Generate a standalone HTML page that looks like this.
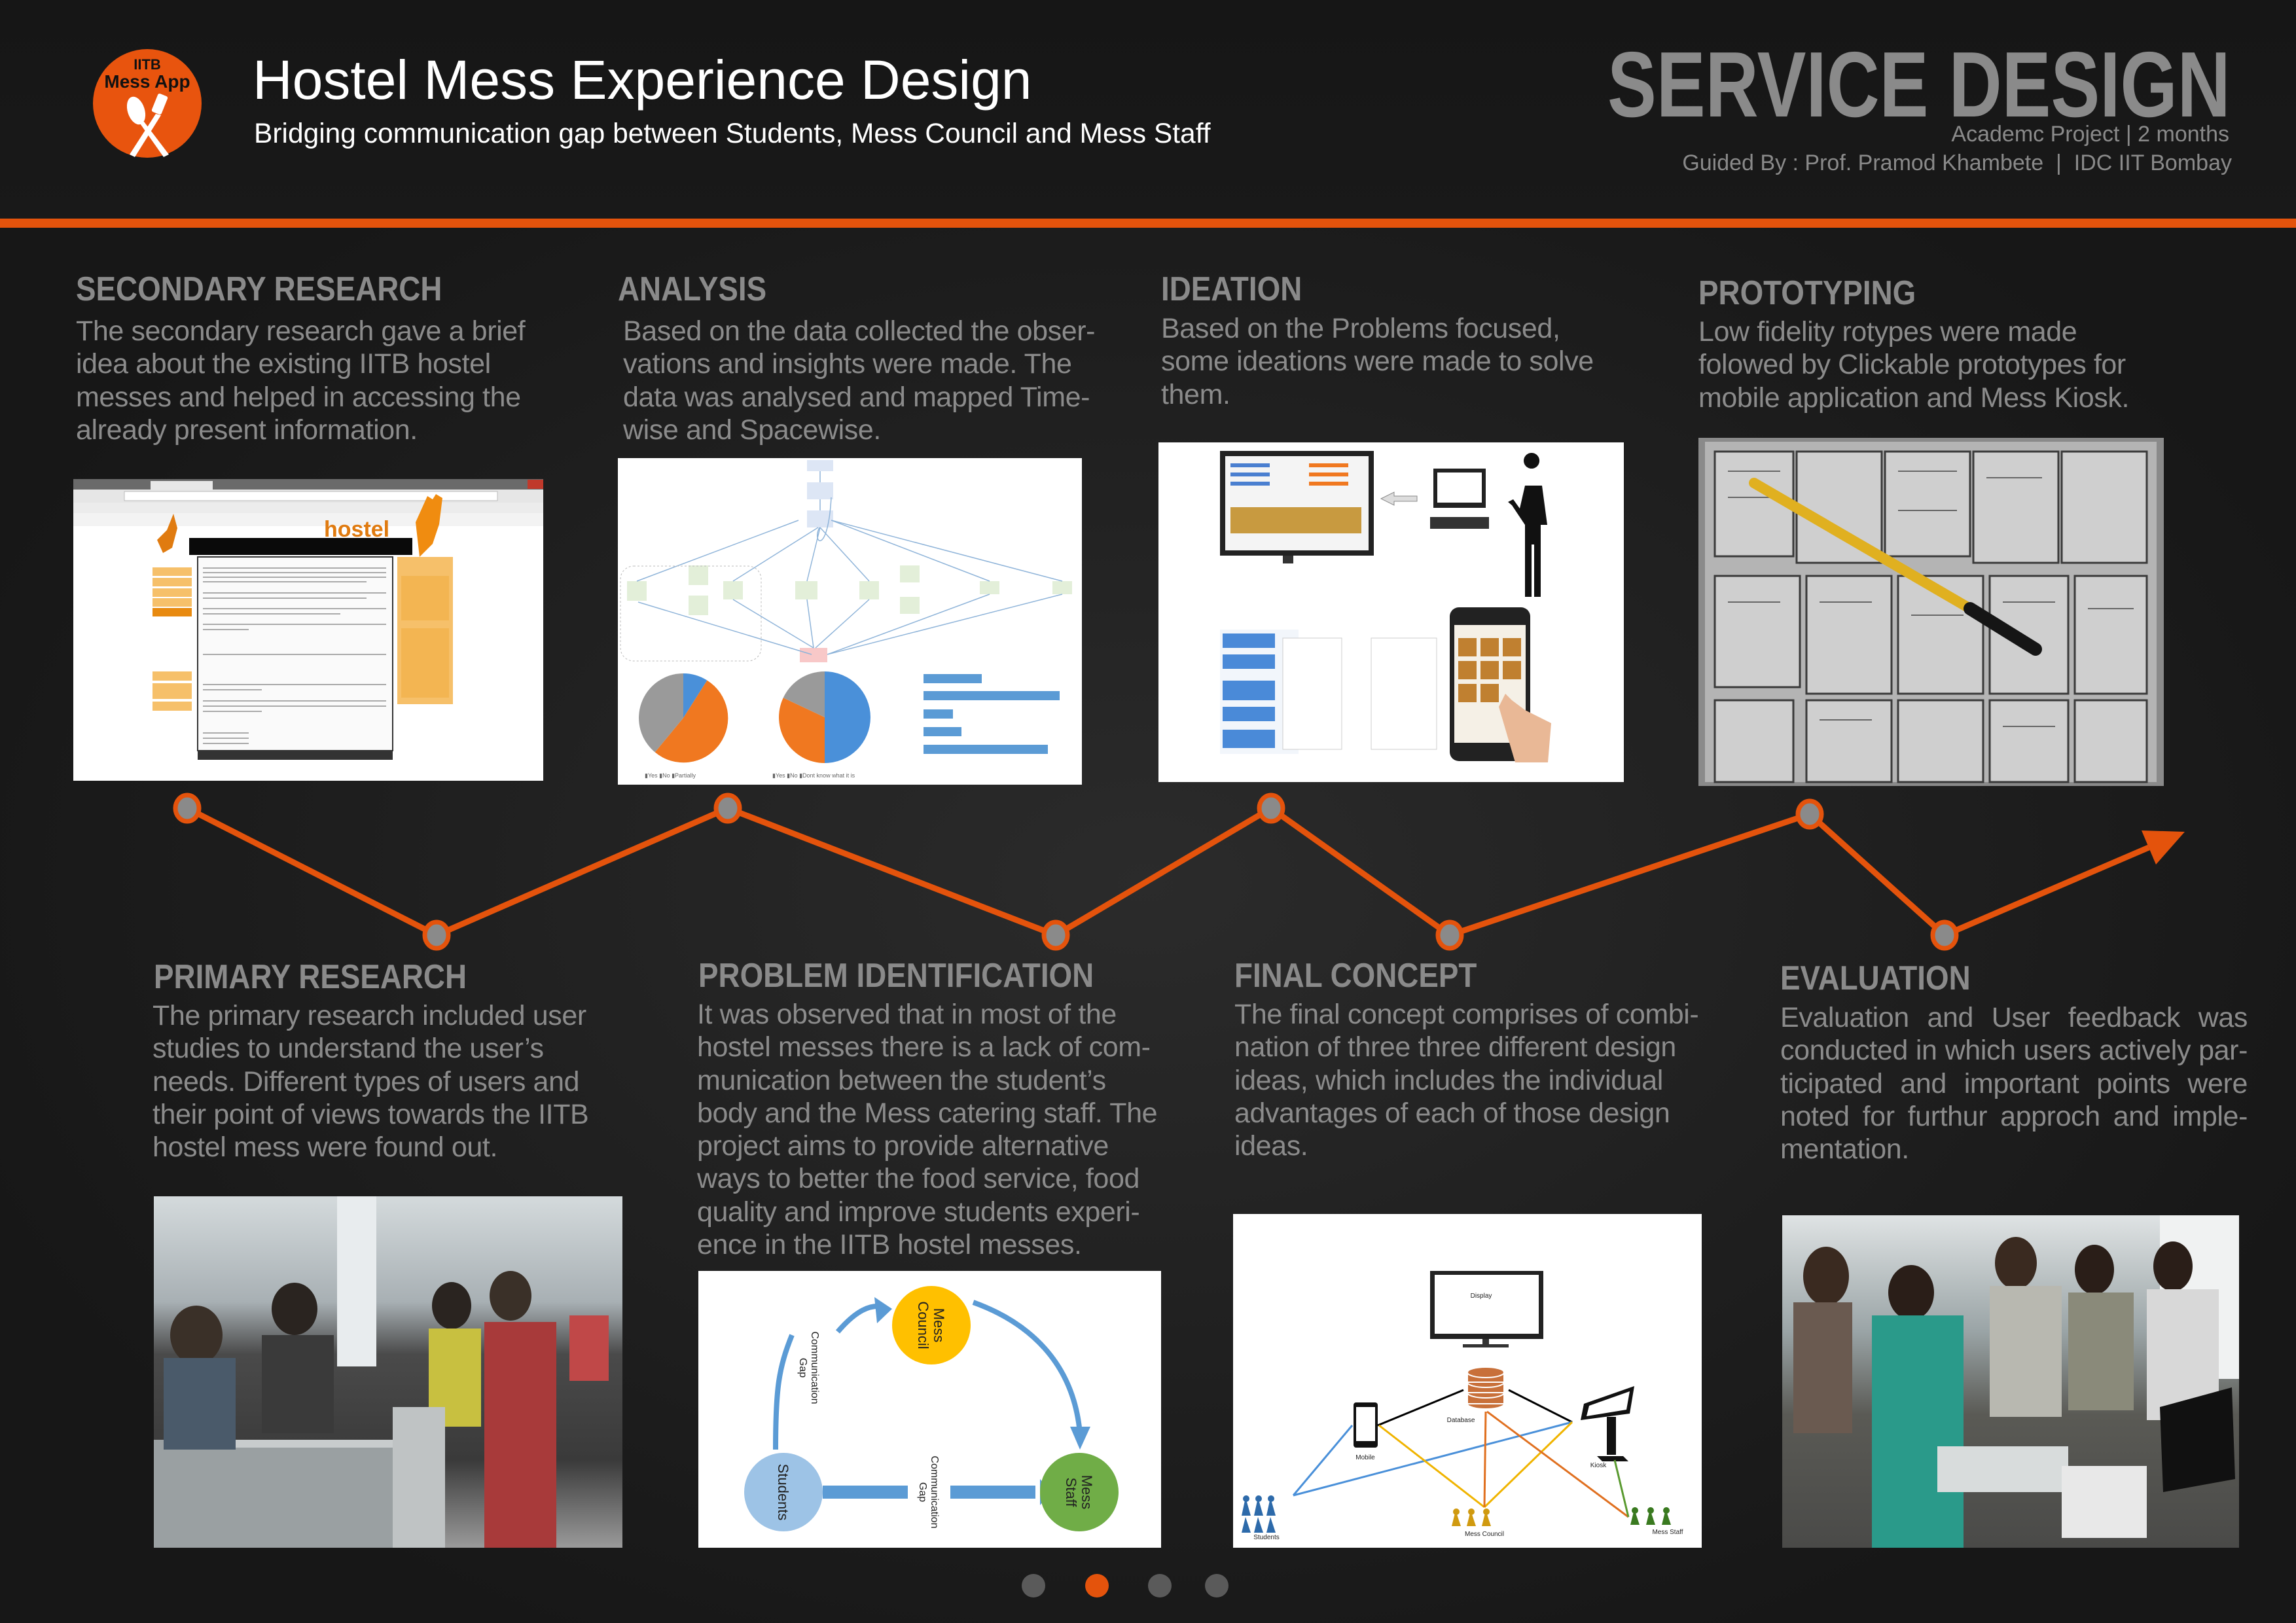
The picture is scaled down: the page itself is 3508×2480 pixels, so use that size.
<!DOCTYPE html>
<html><head><meta charset="utf-8">
<style>
html,body{margin:0;padding:0;}
body{width:3508px;height:2480px;position:relative;overflow:hidden;font-family:"Liberation Sans",sans-serif;
background:radial-gradient(ellipse 1900px 1300px at 1750px 1350px,#2b2b2b 0%,#222 45%,#171717 100%);}
.abs{position:absolute;}
.h{position:absolute;font-weight:bold;font-size:52px;color:#8a8a8a;white-space:nowrap;transform:scaleX(0.88);transform-origin:left top;line-height:60px;}
.t{position:absolute;font-size:43px;line-height:50.3px;color:#8b8b8b;white-space:nowrap;letter-spacing:-0.4px;}
.t div{white-space:nowrap;}
.j div{text-align:justify;text-align-last:justify;}
.j div:last-child{text-align-last:left;}
</style></head><body>
<div class="abs" style="left:0;top:0;width:3508px;height:335px;background:linear-gradient(#161616,#191919);"></div>
<div class="abs" style="left:0;top:334px;width:3508px;height:14px;background:#e4530c;"></div>

<svg class="abs" style="left:140px;top:74px" width="170" height="170" viewBox="0 0 170 170">
<circle cx="85" cy="84" r="83" fill="#e8540e"/>
<text x="85" y="32" text-anchor="middle" font-family="Liberation Sans" font-weight="bold" font-size="22" fill="#111">IITB</text>
<text x="85" y="60" text-anchor="middle" font-family="Liberation Sans" font-weight="bold" font-size="28" fill="#111">Mess App</text>
<g fill="#fff">
<ellipse cx="68" cy="95" rx="13" ry="22" transform="rotate(-18 68 95)"/>
<polygon points="72,112 80,112 118,162 110,166"/>
<rect x="96" y="70" width="16" height="30" rx="3" transform="rotate(22 104 85)"/>
<polygon points="98,100 106,102 66,166 58,162"/>
</g>
</svg>

<div class="abs" style="left:386px;top:72px;font-size:84px;color:#fff;white-space:nowrap;line-height:100px;">Hostel Mess Experience Design</div>
<div class="abs" style="left:388px;top:180px;font-size:42.5px;color:#fff;white-space:nowrap;line-height:50px;">Bridging communication gap between Students, Mess Council and Mess Staff</div>

<div class="abs" style="right:100px;top:55px;font-size:142px;font-weight:bold;color:#8a8a8a;white-space:nowrap;line-height:150px;transform:scaleX(0.79);transform-origin:right top;">SERVICE DESIGN</div>
<div class="abs" style="right:102px;top:184px;font-size:34px;color:#8a8a8a;white-space:nowrap;line-height:42px;">Academc Project | 2 months</div>
<div class="abs" style="right:98px;top:228px;font-size:34px;color:#8a8a8a;white-space:nowrap;line-height:42px;">Guided By : Prof. Pramod Khambete &nbsp;| &nbsp;IDC IIT Bombay</div>

<div class="h" style="left:116px;top:412px;">SECONDARY RESEARCH</div>
<div class="h" style="left:944px;top:412px;">ANALYSIS</div>
<div class="h" style="left:1774px;top:412px;">IDEATION</div>
<div class="h" style="left:2595px;top:418px;">PROTOTYPING</div>

<div class="t" style="left:116px;top:481px;"><div>The secondary research gave a brief</div><div>idea about the existing IITB hostel</div><div>messes and helped in accessing the</div><div>already present information.</div></div>
<div class="t" style="left:952px;top:481px;"><div>Based on the data collected the obser-</div><div>vations and insights were made. The</div><div>data was analysed and mapped Time-</div><div>wise and Spacewise.</div></div>
<div class="t" style="left:1774px;top:477px;"><div>Based on the Problems focused,</div><div>some ideations were made to solve</div><div>them.</div></div>
<div class="t" style="left:2595px;top:482px;"><div>Low fidelity rotypes were made</div><div>folowed by Clickable prototypes for</div><div>mobile application and Mess Kiosk.</div></div>

<div class="h" style="left:235px;top:1463px;">PRIMARY RESEARCH</div>
<div class="h" style="left:1067px;top:1461px;">PROBLEM IDENTIFICATION</div>
<div class="h" style="left:1886px;top:1461px;">FINAL CONCEPT</div>
<div class="h" style="left:2720px;top:1465px;">EVALUATION</div>

<div class="t" style="left:233px;top:1527px;"><div>The primary research included user</div><div>studies to understand the user’s</div><div>needs. Different types of users and</div><div>their point of views towards the IITB</div><div>hostel mess were found out.</div></div>
<div class="t" style="left:1065px;top:1525px;"><div>It was observed that in most of the</div><div>hostel messes there is a lack of com-</div><div>munication between the student’s</div><div>body and the Mess catering staff. The</div><div>project aims to provide alternative</div><div>ways to better the food service, food</div><div>quality and improve students experi-</div><div>ence in the IITB hostel messes.</div></div>
<div class="t" style="left:1886px;top:1525px;"><div>The final concept comprises of combi-</div><div>nation of three three different design</div><div>ideas, which includes the individual</div><div>advantages of each of those design</div><div>ideas.</div></div>
<div class="t j" style="left:2720px;top:1530px;width:714px;"><div>Evaluation and User feedback was</div><div>conducted in which users actively par-</div><div>ticipated and important points were</div><div>noted for furthur approch and imple-</div><div>mentation.</div></div>

<svg class="abs" style="left:0;top:0" width="3508" height="2480" viewBox="0 0 3508 2480" font-family="Liberation Sans">
<rect x="112" y="732" width="718" height="461" fill="#fff"/>
<rect x="112" y="732" width="718" height="16" fill="#6a6a6a"/>
<rect x="230" y="735" width="95" height="13" fill="#e8e8e8"/>
<rect x="806" y="733" width="24" height="14" fill="#c0392b"/>
<rect x="112" y="748" width="718" height="20" fill="#e6e6e6"/>
<rect x="190" y="751" width="570" height="14" fill="#fff" stroke="#bbb"/>
<rect x="112" y="768" width="718" height="16" fill="#ececec"/>
<rect x="112" y="784" width="718" height="20" fill="#f3f3f3"/>
<rect x="289" y="822" width="341" height="26" fill="#0a0a0a"/>
<text x="495" y="820" font-size="34" font-weight="bold" fill="#e07b10">hostel</text>
<path d="M635 798 l18 -40 l8 5 l5 -8 l10 6 l-5 40 l-10 30 l-20 20 z" fill="#f08c10"/>
<path d="M240 825 l15 -15 l10 -25 l6 22 l-8 30 l-14 8 z" fill="#e07b10"/>
<g fill="#f6c06a"><rect x="233" y="867" width="60" height="13"/><rect x="233" y="883" width="60" height="13"/><rect x="233" y="899" width="60" height="13"/><rect x="233" y="914" width="60" height="13"/><rect x="233" y="1026" width="60" height="14"/><rect x="233" y="1044" width="60" height="24"/><rect x="233" y="1072" width="60" height="14"/></g>
<rect x="233" y="929" width="60" height="13" fill="#e88a10"/>
<rect x="302" y="851" width="298" height="296" fill="#fafafa" stroke="#333" stroke-width="2"/>
<g stroke="#aaa" stroke-width="2"><line x1="310" y1="868" x2="590" y2="868"/><line x1="310" y1="875" x2="590" y2="875"/><line x1="310" y1="882" x2="590" y2="882"/><line x1="310" y1="889" x2="560" y2="889"/><line x1="310" y1="906" x2="590" y2="906"/><line x1="310" y1="914" x2="560" y2="914"/><line x1="310" y1="930" x2="590" y2="930"/><line x1="310" y1="938" x2="520" y2="938"/><line x1="310" y1="954" x2="590" y2="954"/><line x1="310" y1="962" x2="380" y2="962"/><line x1="310" y1="1000" x2="590" y2="1000"/><line x1="310" y1="1046" x2="590" y2="1046"/><line x1="310" y1="1054" x2="400" y2="1054"/><line x1="310" y1="1071" x2="590" y2="1071"/><line x1="310" y1="1079" x2="590" y2="1079"/><line x1="310" y1="1087" x2="400" y2="1087"/><line x1="310" y1="1120" x2="380" y2="1120"/><line x1="310" y1="1128" x2="380" y2="1128"/><line x1="310" y1="1136" x2="380" y2="1136"/></g>
<rect x="302" y="1146" width="298" height="15" fill="#333"/>
<rect x="607" y="851" width="85" height="225" fill="#f6c06a"/>
<rect x="613" y="880" width="73" height="68" fill="#f3b552"/>
<rect x="613" y="960" width="73" height="106" fill="#f3b552"/>

<rect x="944" y="700" width="709" height="499" fill="#fff"/>
<g fill="#dde6f5"><rect x="1233" y="703" width="40" height="17"/><rect x="1233" y="737" width="40" height="26"/><rect x="1233" y="780" width="40" height="26"/></g>
<g fill="#e3efd9"><rect x="958" y="888" width="30" height="30"/><rect x="1052" y="864" width="30" height="30"/><rect x="1052" y="910" width="30" height="30"/><rect x="1105" y="888" width="30" height="28"/><rect x="1215" y="888" width="34" height="28"/><rect x="1313" y="888" width="30" height="28"/><rect x="1375" y="864" width="30" height="26"/><rect x="1375" y="912" width="30" height="26"/><rect x="1497" y="888" width="30" height="20"/><rect x="1608" y="888" width="30" height="20"/></g>
<rect x="1222" y="990" width="42" height="22" fill="#f8c8c8"/>
<g stroke="#8fb4d9" stroke-width="1.5" fill="none"><path d="M1253 720v17M1253 763v17M973 888L1220 795M1120 888L1250 806M1233 888L1253 806M1328 888L1253 806M1512 888L1270 795M1623 888L1270 795M975 920L1240 1000M1120 916L1243 990M1233 916L1243 990M1328 916L1246 990M1512 908L1264 1000M1623 908L1264 1000M1252 806C1240 830 1265 850 1270 760"/></g>
<rect x="948" y="865" width="215" height="145" rx="20" fill="none" stroke="#bbb" stroke-dasharray="3 3"/>
<path d="M1044 1097L1044 1029A68 68 0 0 1 1080.4 1039.6Z" fill="#4a90d9"/>
<path d="M1044 1097L1080.4 1039.6A68 68 0 1 1 1000.7 1149.4Z" fill="#f07820"/>
<path d="M1044 1097L1000.7 1149.4A68 68 0 0 1 1044 1029Z" fill="#9a9a9a"/>
<path d="M1260 1096L1260 1026A70 70 0 0 1 1260 1166Z" fill="#4a90d9"/>
<path d="M1260 1096L1260 1166A70 70 0 0 1 1196.7 1066.2Z" fill="#f07820"/>
<path d="M1260 1096L1196.7 1066.2A70 70 0 0 1 1260 1026Z" fill="#9a9a9a"/>
<g fill="#5b9bd5"><rect x="1411" y="1030" width="89" height="14"/><rect x="1411" y="1056" width="208" height="14"/><rect x="1411" y="1084" width="45" height="14"/><rect x="1411" y="1111" width="58" height="14"/><rect x="1411" y="1138" width="190" height="14"/></g>
<g font-size="9" fill="#666"><text x="985" y="1188">▮Yes ▮No ▮Partially</text><text x="1180" y="1188">▮Yes ▮No ▮Dont know what it is</text></g>

<rect x="1770" y="676" width="711" height="519" fill="#fff"/>
<rect x="1864" y="689" width="235" height="160" fill="#222"/>
<rect x="1872" y="697" width="219" height="144" fill="#f4f4f4"/>
<g fill="#4a7fd0"><rect x="1880" y="708" width="60" height="6"/><rect x="1880" y="722" width="60" height="6"/><rect x="1880" y="736" width="60" height="6"/></g>
<g fill="#f07820"><rect x="2000" y="708" width="60" height="6"/><rect x="2000" y="722" width="60" height="6"/><rect x="2000" y="736" width="60" height="6"/></g>
<rect x="1880" y="775" width="200" height="40" fill="#c89a40"/>
<rect x="1960" y="849" width="16" height="12" fill="#333"/>
<polygon points="2110,762 2130,752 2130,758 2165,758 2165,766 2130,766 2130,772" fill="#ddd" stroke="#888"/>
<rect x="2190" y="716" width="80" height="60" fill="#222"/><rect x="2196" y="722" width="68" height="46" fill="#fff"/>
<rect x="2185" y="790" width="90" height="18" fill="#333"/>
<path d="M2340 716a12 12 0 1 1 0.1 0zM2330 742h26l8 60h-10v110h-10v-80h-4v80h-10v-110l-20 -30l-6 -5l8 -4l10 14z" fill="#111"/>
<rect x="1864" y="962" width="120" height="190" fill="#f2f6fb"/>
<g fill="#4a8ad8"><rect x="1868" y="968" width="80" height="22"/><rect x="1868" y="1000" width="80" height="22"/><rect x="1868" y="1040" width="80" height="30"/><rect x="1868" y="1080" width="80" height="22"/><rect x="1868" y="1115" width="80" height="28"/></g>
<rect x="1960" y="975" width="90" height="170" fill="#fff" stroke="#ccc"/>
<rect x="2095" y="975" width="100" height="170" fill="#fff" stroke="#ccc"/>
<rect x="2215" y="928" width="123" height="235" rx="14" fill="#222"/>
<rect x="2222" y="955" width="109" height="180" fill="#f5f0e6"/>
<g fill="#c08030"><rect x="2228" y="975" width="28" height="28"/><rect x="2262" y="975" width="28" height="28"/><rect x="2296" y="975" width="28" height="28"/><rect x="2228" y="1010" width="28" height="28"/><rect x="2262" y="1010" width="28" height="28"/><rect x="2296" y="1010" width="28" height="28"/><rect x="2228" y="1045" width="28" height="28"/><rect x="2262" y="1045" width="28" height="28"/></g>
<path d="M2290 1080l10 -20l10 10l20 15l40 20l-5 60h-50z" fill="#e9b896"/>

<rect x="2595" y="669" width="711" height="532" fill="#8a8a8a"/>
<rect x="2605" y="675" width="690" height="520" fill="#b4b4b4"/>
<g fill="#cfcfcf" stroke="#3a3a3a" stroke-width="3">
<rect x="2620" y="690" width="120" height="160"/><rect x="2745" y="690" width="130" height="170"/><rect x="2880" y="690" width="130" height="160"/><rect x="3015" y="690" width="130" height="170"/><rect x="3150" y="690" width="130" height="170"/>
<rect x="2620" y="880" width="130" height="170"/><rect x="2760" y="880" width="130" height="180"/><rect x="2900" y="880" width="130" height="180"/><rect x="3040" y="880" width="120" height="180"/><rect x="3170" y="880" width="110" height="180"/>
<rect x="2620" y="1070" width="120" height="125"/><rect x="2760" y="1070" width="130" height="125"/><rect x="2900" y="1070" width="130" height="125"/><rect x="3040" y="1070" width="120" height="125"/><rect x="3170" y="1070" width="110" height="125"/>
</g>
<g stroke="#666" stroke-width="2"><line x1="2640" y1="720" x2="2720" y2="720"/><line x1="2640" y1="760" x2="2720" y2="760"/><line x1="2900" y1="720" x2="2990" y2="720"/><line x1="2900" y1="780" x2="2990" y2="780"/><line x1="3035" y1="730" x2="3120" y2="730"/><line x1="2780" y1="920" x2="2860" y2="920"/><line x1="2920" y1="940" x2="3000" y2="940"/><line x1="3060" y1="920" x2="3140" y2="920"/><line x1="2640" y1="920" x2="2720" y2="920"/><line x1="3190" y1="930" x2="3260" y2="930"/><line x1="2780" y1="1100" x2="2860" y2="1100"/><line x1="3060" y1="1110" x2="3140" y2="1110"/></g>
<line x1="2680" y1="738" x2="3010" y2="930" stroke="#e0b020" stroke-width="16" stroke-linecap="round"/>
<line x1="3010" y1="930" x2="3110" y2="992" stroke="#151515" stroke-width="20" stroke-linecap="round"/>

<polyline points="286,1235 667,1429 1112,1235 1613,1429 1942,1235 2215,1429 2765,1244 2971,1429 3283,1295" fill="none" stroke="#e4530c" stroke-width="9" stroke-linejoin="round"/>
<polygon points="3338,1271 3294,1321 3272,1269" fill="#e4530c"/>
<g fill="#8a8a8a" stroke="#e4530c" stroke-width="7">
<ellipse cx="286" cy="1235" rx="18" ry="20"/><ellipse cx="667" cy="1429" rx="18" ry="20"/><ellipse cx="1112" cy="1235" rx="18" ry="20"/><ellipse cx="1613" cy="1429" rx="18" ry="20"/><ellipse cx="1942" cy="1235" rx="18" ry="20"/><ellipse cx="2215" cy="1429" rx="18" ry="20"/><ellipse cx="2765" cy="1244" rx="18" ry="20"/><ellipse cx="2971" cy="1429" rx="18" ry="20"/></g>

<defs>
<linearGradient id="pr" x1="0" y1="0" x2="0" y2="1"><stop offset="0" stop-color="#d4dadc"/><stop offset="0.3" stop-color="#a8b0b4"/><stop offset="0.45" stop-color="#4a4a4a"/><stop offset="0.75" stop-color="#3a3a3a"/><stop offset="1" stop-color="#9a9a9a"/></linearGradient>
<linearGradient id="ev" x1="0" y1="0" x2="0" y2="1"><stop offset="0" stop-color="#dfe3e4"/><stop offset="0.35" stop-color="#9aa4a6"/><stop offset="0.6" stop-color="#5a5a55"/><stop offset="1" stop-color="#4a4a48"/></linearGradient>
</defs>
<rect x="235" y="1828" width="716" height="537" fill="url(#pr)"/>
<rect x="515" y="1828" width="60" height="260" fill="#e8ecee"/>
<rect x="235" y="2200" width="420" height="165" fill="#9aa0a2"/>
<rect x="250" y="2200" width="400" height="12" fill="#c8cccd"/>
<ellipse cx="300" cy="2040" rx="40" ry="45" fill="#3a3028"/>
<rect x="250" y="2075" width="110" height="140" fill="#4a5a6a"/>
<ellipse cx="450" cy="2000" rx="35" ry="40" fill="#2a2420"/>
<rect x="400" y="2040" width="110" height="150" fill="#3a3a3a"/>
<ellipse cx="690" cy="1995" rx="30" ry="36" fill="#2a2420"/>
<rect x="655" y="2030" width="80" height="150" fill="#c8c040"/>
<ellipse cx="780" cy="1980" rx="32" ry="38" fill="#3a3028"/>
<rect x="740" y="2020" width="110" height="345" fill="#a83a3a"/>
<rect x="870" y="2010" width="60" height="100" fill="#c04848"/>
<rect x="600" y="2150" width="80" height="215" fill="#bfc3c4"/>

<rect x="1067" y="1942" width="707" height="423" fill="#fff"/>
<g fill="none" stroke="#5b9bd5" stroke-width="8">
<path d="M1185 2215C1185 2120 1190 2090 1210 2040"/>
<path d="M1280 2035C1310 2000 1330 1995 1345 1996"/>
<path d="M1487 1990C1570 2020 1640 2080 1650 2190"/>
</g>
<polygon points="1363,2000 1336,1982 1340,2022" fill="#5b9bd5"/>
<polygon points="1650,2215 1635,2180 1666,2180" fill="#5b9bd5"/>
<rect x="1257" y="2270" width="130" height="20" fill="#5b9bd5"/>
<rect x="1452" y="2270" width="130" height="20" fill="#5b9bd5"/>
<polygon points="1589,2260 1589,2300 1605,2280" fill="#5b9bd5"/>
<circle cx="1423" cy="2025" r="60" fill="#ffc000"/>
<circle cx="1197" cy="2280" r="60" fill="#9dc3e6"/>
<circle cx="1649" cy="2280" r="60" fill="#70ad47"/>
<g font-size="22" fill="#222" text-anchor="middle">
<text transform="translate(1423 2025) rotate(90)"><tspan x="0" y="-4">Mess</tspan><tspan x="0" y="20">Council</tspan></text>
<text transform="translate(1197 2280) rotate(90)" y="8">Students</text>
<text transform="translate(1649 2280) rotate(90)"><tspan x="0" y="-4">Mess</tspan><tspan x="0" y="20">Staff</tspan></text>
<text font-size="16" transform="translate(1240 2090) rotate(90)"><tspan x="0" y="0">Communication</tspan><tspan x="0" y="18">Gap</tspan></text>
<text font-size="16" transform="translate(1423 2280) rotate(90)"><tspan x="0" y="0">Communication</tspan><tspan x="0" y="18">Gap</tspan></text>
</g>

<rect x="1884" y="1855" width="716" height="510" fill="#fff"/>
<rect x="2185" y="1942" width="173" height="104" fill="#222"/>
<rect x="2192" y="1948" width="159" height="90" fill="#fff"/>
<rect x="2265" y="2046" width="10" height="8" fill="#333"/><rect x="2235" y="2054" width="70" height="5" fill="#333"/>
<text x="2263" y="1983" font-size="10" text-anchor="middle" fill="#222">Display</text>
<g fill="#c8703a" stroke="#fff" stroke-width="2"><ellipse cx="2270" cy="2145" rx="28" ry="8"/><rect x="2242" y="2128" width="56" height="17"/><ellipse cx="2270" cy="2128" rx="28" ry="8"/><rect x="2242" y="2112" width="56" height="16"/><ellipse cx="2270" cy="2112" rx="28" ry="8"/><rect x="2242" y="2097" width="56" height="15"/><ellipse cx="2270" cy="2097" rx="28" ry="8"/></g>
<rect x="2068" y="2143" width="37" height="69" rx="4" fill="#111"/><rect x="2072" y="2150" width="29" height="52" fill="#fff"/>
<polygon points="2420,2145 2497,2118 2490,2160 2415,2170" fill="#111"/><polygon points="2428,2148 2490,2126 2485,2154 2424,2164" fill="#fff"/>
<rect x="2455" y="2165" width="14" height="58" fill="#111"/><polygon points="2440,2225 2480,2225 2488,2233 2448,2233" fill="#111"/>
<g stroke-width="3" fill="none">
<path d="M2105 2178L2236 2124M2402 2173L2305 2124" stroke="#000"/>
<path d="M1976 2285L2066 2178M1976 2285L2402 2173" stroke="#4a90d9"/>
<path d="M2268 2303L2107 2178M2268 2303L2402 2173" stroke="#f0b400"/>
<path d="M2268 2303L2270 2157M2488 2318L2272 2157" stroke="#e07020"/>
<path d="M2488 2318L2467 2231" stroke="#5a9a30"/>
</g>
<g font-size="10" fill="#222" text-anchor="middle"><text x="2086" y="2230">Mobile</text><text x="2232" y="2173">Database</text><text x="2442" y="2242">Kiosk</text><text x="1935" y="2352">Students</text><text x="2268" y="2347">Mess Council</text><text x="2548" y="2344">Mess Staff</text></g>
<g fill="#2d6aaa"><path d="M1903 2288l-6 28h14z M1922 2288l-6 28h14z M1941 2288l-6 28h14z M1903 2318l-6 24h14z M1922 2318l-6 24h14z M1941 2318l-6 24h14z"/><circle cx="1904" cy="2290" r="5"/><circle cx="1923" cy="2290" r="5"/><circle cx="1942" cy="2290" r="5"/></g>
<g fill="#d09a10"><path d="M2224 2308l-6 24h14z M2247 2308l-6 24h14z M2270 2308l-6 24h14z"/><circle cx="2225" cy="2310" r="5"/><circle cx="2248" cy="2310" r="5"/><circle cx="2271" cy="2310" r="5"/></g>
<g fill="#3a7a20"><path d="M2497 2306l-6 24h14z M2521 2306l-6 24h14z M2545 2306l-6 24h14z"/><circle cx="2498" cy="2308" r="5"/><circle cx="2522" cy="2308" r="5"/><circle cx="2546" cy="2308" r="5"/></g>

<rect x="2723" y="1857" width="698" height="508" fill="url(#ev)"/>
<rect x="3300" y="1857" width="121" height="250" fill="#f0f2f2"/>
<ellipse cx="2790" cy="1950" rx="35" ry="45" fill="#3a2a20"/>
<rect x="2740" y="1990" width="90" height="200" fill="#6a5a50"/>
<ellipse cx="2920" cy="1975" rx="35" ry="42" fill="#2a1e18"/>
<rect x="2860" y="2010" width="140" height="355" fill="#2a9a8a"/>
<ellipse cx="3080" cy="1930" rx="32" ry="40" fill="#3a2a20"/>
<rect x="3040" y="1965" width="110" height="200" fill="#b8b8b0"/>
<ellipse cx="3200" cy="1940" rx="30" ry="38" fill="#2a1e18"/>
<rect x="3160" y="1975" width="100" height="180" fill="#8a8a7a"/>
<ellipse cx="3320" cy="1935" rx="30" ry="38" fill="#2a1e18"/>
<rect x="3280" y="1970" width="110" height="200" fill="#d8d8d8"/>
<polygon points="3300,2150 3410,2120 3415,2260 3305,2280" fill="#111"/>
<rect x="2960" y="2210" width="200" height="70" fill="#d8dcdc"/>
<rect x="3150" y="2240" width="130" height="110" fill="#e8e8e8"/>

<circle cx="1579" cy="2423" r="18" fill="#5a5a5a"/>
<circle cx="1676" cy="2423" r="18" fill="#e4530c"/>
<circle cx="1772" cy="2423" r="18" fill="#5a5a5a"/>
<circle cx="1859" cy="2423" r="18" fill="#5a5a5a"/>
</svg>
</body></html>
